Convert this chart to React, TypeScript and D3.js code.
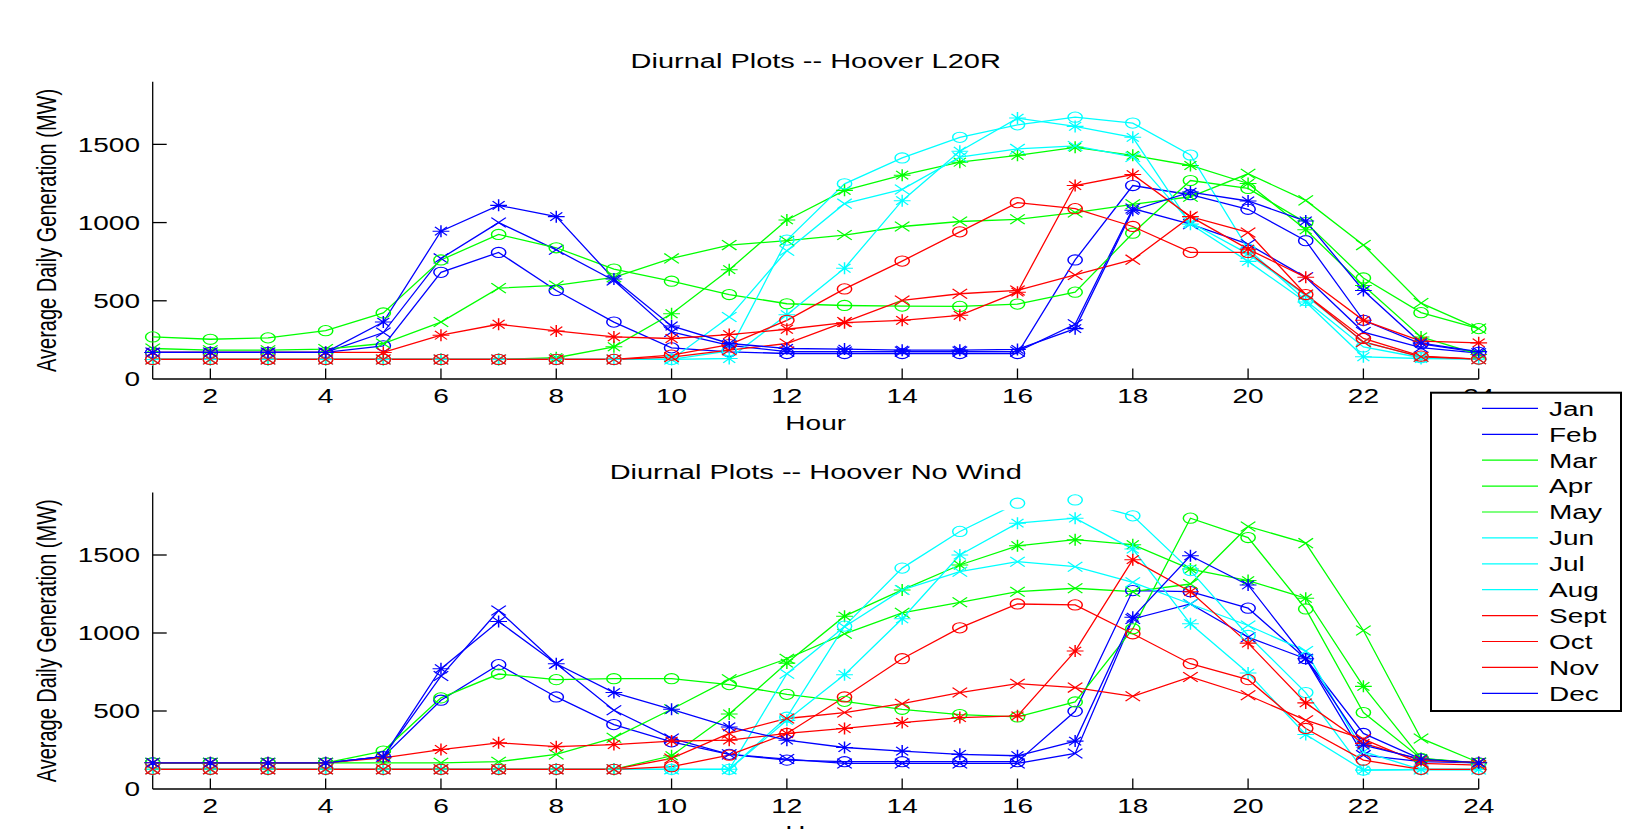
import React from "react";
import * as d3 from "d3";

const hours = [1, 2, 3, 4, 5, 6, 7, 8, 9, 10, 11, 12, 13, 14, 15, 16, 17, 18, 19, 20, 21, 22, 23, 24];
const xTicks = [2, 4, 6, 8, 10, 12, 14, 16, 18, 20, 22, 24];
const yTicks = [0, 500, 1000, 1500];
const months = ["Jan", "Feb", "Mar", "Apr", "May", "Jun", "Jul", "Aug", "Sept", "Oct", "Nov", "Dec"];
const monthColors = ["#0000ff", "#0000ff", "#00ff00", "#00ff00", "#00ff00", "#00ffff", "#00ffff", "#00ffff", "#ff0000", "#ff0000", "#ff0000", "#0000ff"];
const monthMarkers = ["o", "x", "*", "o", "x", "*", "o", "x", "*", "o", "x", "*"];

// Hoover L20R
const l20rJan = [170, 170, 170, 170, 212, 682, 809, 566, 364, 199, 174, 163, 163, 163, 163, 163, 761, 1237, 1178, 1085, 884, 375, 225, 170];
const l20rFeb = [170, 170, 170, 170, 297, 771, 1000, 826, 630, 301, 215, 175, 175, 175, 175, 175, 350, 1090, 990, 862, 650, 300, 200, 165];
const l20rMar = [125, 125, 125, 125, 125, 125, 125, 136, 206, 417, 699, 1017, 1206, 1303, 1386, 1430, 1481, 1430, 1365, 1250, 954, 598, 269, 157];
const l20rApr = [269, 254, 263, 309, 422, 761, 924, 839, 703, 625, 540, 481, 470, 466, 464, 479, 555, 932, 1269, 1218, 1000, 646, 424, 322];
const l20rMay = [195, 184, 184, 191, 227, 364, 581, 598, 650, 771, 856, 884, 920, 975, 1007, 1021, 1064, 1117, 1165, 1312, 1142, 856, 485, 322];
const l20rJun = [125, 125, 125, 125, 125, 125, 125, 125, 125, 125, 131, 411, 708, 1140, 1456, 1668, 1615, 1545, 990, 752, 492, 142, 131, 127];
const l20rJul = [125, 125, 125, 125, 125, 125, 125, 125, 125, 125, 180, 888, 1248, 1413, 1545, 1625, 1674, 1636, 1432, 830, 502, 205, 136, 127];
const l20rAug = [125, 125, 125, 125, 125, 125, 125, 125, 125, 125, 396, 820, 1121, 1212, 1418, 1471, 1490, 1420, 1000, 800, 534, 237, 142, 127];
const l20rSep = [170, 170, 170, 170, 170, 280, 350, 307, 269, 259, 284, 318, 360, 375, 407, 555, 1237, 1307, 1038, 830, 650, 375, 242, 231];
const l20rOct = [125, 125, 125, 125, 125, 125, 125, 125, 125, 153, 220, 375, 576, 754, 941, 1127, 1089, 975, 809, 809, 540, 259, 146, 127];
const l20rNov = [125, 125, 125, 125, 125, 125, 125, 125, 125, 140, 184, 227, 364, 502, 545, 566, 665, 763, 1038, 937, 540, 237, 142, 127];
const l20rDec = [170, 170, 170, 170, 364, 945, 1110, 1038, 639, 339, 227, 195, 191, 184, 184, 189, 322, 1079, 1195, 1138, 1010, 566, 230, 175];

// Hoover No Wind
const nwJan = [168, 168, 168, 168, 207, 569, 797, 590, 413, 302, 222, 185, 175, 175, 175, 175, 498, 1272, 1265, 1159, 835, 356, 192, 168];
const nwFeb = [168, 168, 168, 168, 207, 724, 1144, 803, 505, 324, 222, 192, 164, 164, 164, 164, 228, 1090, 1186, 973, 835, 217, 175, 168];
const nwMar = [126, 126, 126, 126, 126, 126, 126, 126, 126, 213, 481, 807, 1108, 1276, 1436, 1559, 1598, 1566, 1410, 1336, 1223, 658, 196, 168];
const nwApr = [168, 168, 168, 168, 243, 584, 737, 701, 707, 707, 669, 607, 562, 511, 477, 462, 558, 1027, 1736, 1612, 1154, 490, 196, 164];
const nwMay = [168, 168, 168, 168, 168, 168, 175, 222, 328, 511, 703, 835, 995, 1129, 1197, 1265, 1287, 1265, 1314, 1683, 1576, 1016, 324, 170];
const nwJun = [126, 126, 126, 126, 126, 126, 126, 126, 126, 126, 126, 440, 733, 1091, 1500, 1704, 1736, 1538, 1059, 743, 349, 121, 125, 125];
const nwJul = [126, 126, 126, 126, 126, 126, 126, 126, 126, 126, 126, 460, 1044, 1416, 1651, 1832, 1853, 1751, 1400, 984, 618, 121, 125, 125];
const nwAug = [126, 126, 126, 126, 126, 126, 126, 126, 126, 126, 126, 739, 1040, 1276, 1393, 1457, 1425, 1325, 1186, 1048, 884, 239, 125, 125];
const nwSep = [168, 168, 168, 168, 200, 253, 296, 271, 285, 307, 313, 356, 388, 426, 458, 469, 884, 1470, 1265, 935, 552, 292, 185, 170];
const nwOct = [126, 126, 126, 126, 126, 126, 126, 126, 126, 143, 217, 356, 590, 835, 1033, 1186, 1180, 995, 803, 701, 388, 185, 126, 126];
const nwNov = [126, 126, 126, 126, 126, 126, 126, 126, 126, 196, 356, 452, 490, 547, 618, 675, 650, 594, 718, 601, 441, 320, 164, 153];
const nwDec = [168, 168, 168, 168, 207, 771, 1074, 803, 618, 511, 398, 313, 266, 243, 222, 213, 307, 1101, 1495, 1308, 835, 281, 192, 168];

const l20rSeries = [l20rJan, l20rFeb, l20rMar, l20rApr, l20rMay, l20rJun, l20rJul, l20rAug, l20rSep, l20rOct, l20rNov, l20rDec];
const nwSeries = [nwJan, nwFeb, nwMar, nwApr, nwMay, nwJun, nwJul, nwAug, nwSep, nwOct, nwNov, nwDec];

const SX = 1.4;
const FONT = '"Liberation Sans", Arial, Helvetica, sans-serif';
const X0 = 152.7;
const X1 = 1478.7;

function T({ x, y, children, anchor = "middle", size = 20, rotate = 0 }: any) {
  const tr = `translate(${x},${y}) scale(${SX},1)` + (rotate ? ` rotate(${rotate})` : "");
  return (
    <text transform={tr} textAnchor={anchor} fontFamily={FONT} fontSize={size} fill="#000">
      {children}
    </text>
  );
}

function Marker({ type, cx, cy, color }: any) {
  const t = `translate(${cx},${cy}) scale(${SX},1)`;
  if (type === "o") return <circle transform={t} r={5.1} fill="none" stroke={color} strokeWidth={1.05} />;
  if (type === "x")
    return <path transform={t} d="M-5.2,-4.9L5.2,4.9M-5.2,4.9L5.2,-4.9" fill="none" stroke={color} strokeWidth={1.05} />;
  return (
    <path
      transform={t}
      d="M0,-6V6M-6,0H6M-4.3,-4.3L4.3,4.3M-4.3,4.3L4.3,-4.3"
      fill="none"
      stroke={color}
      strokeWidth={1.05}
    />
  );
}

function Panel({ id, title, series, yBase, yTop }: any) {
  const x = d3.scaleLinear().domain([1, 24]).range([X0, X1]);
  const y = d3.scaleLinear().domain([0, 1900]).range([yBase, yTop]);
  const line = d3
    .line<number>()
    .x((_, i) => x(hours[i]))
    .y((d) => y(d));
  const clipTop = y(1787);
  return (
    <g>
      <defs>
        <clipPath id={id}>
          <rect x={0} y={clipTop} width={1640} height={829 - clipTop} />
        </clipPath>
      </defs>
      <T x={(X0 + X1) / 2} y={yTop - 13.5} size={20.7}>
        {title}
      </T>
      {/* axes */}
      <line x1={X0} x2={X1} y1={yBase} y2={yBase} stroke="#000" strokeWidth={1.3} />
      <line x1={X0} x2={X0} y1={yBase} y2={y(1900)} stroke="#000" strokeWidth={1.3} />
      {xTicks.map((t) => (
        <g key={"xt" + t}>
          <line x1={x(t)} x2={x(t)} y1={yBase} y2={yBase - 10.5} stroke="#000" strokeWidth={1.3} />
          <T x={x(t)} y={yBase + 24}>
            {t}
          </T>
        </g>
      ))}
      {yTicks.map((t) => (
        <g key={"yt" + t}>
          {t > 0 && <line x1={X0} x2={X0 + 14} y1={y(t)} y2={y(t)} stroke="#000" strokeWidth={1.3} />}
          <T x={140} y={y(t) + 7.2} anchor="end">
            {t}
          </T>
        </g>
      ))}
      <T x={(X0 + X1) / 2} y={yBase + 50.5}>
        Hour
      </T>
      <T x={56.4} y={(yBase + y(1900)) / 2} rotate={-90}>
        Average Daily Generation (MW)
      </T>
      {/* lines */}
      <g clipPath={`url(#${id})`}>
        {series.map((s: number[], i: number) => (
          <path key={"l" + i} d={line(s) || ""} fill="none" stroke={monthColors[i]} strokeWidth={1.3} />
        ))}
      </g>
      {/* markers */}
      {series.map((s: number[], i: number) => (
        <g key={"m" + i}>
          {s.map((v, j) => (
            <Marker key={j} type={monthMarkers[i]} cx={x(hours[j])} cy={y(v)} color={monthColors[i]} />
          ))}
        </g>
      ))}
    </g>
  );
}

function Legend() {
  const lx = 1431;
  const ly = 392.7;
  const w = 190;
  const h = 318.3;
  const row0 = 408.4;
  const step = 25.9;
  return (
    <g>
      <rect x={lx} y={ly} width={w} height={h} fill="#fff" stroke="#000" strokeWidth={2} />
      {months.map((m, i) => (
        <g key={m}>
          <line x1={1482} x2={1538} y1={row0 + i * step} y2={row0 + i * step} stroke={monthColors[i]} strokeWidth={1.2} />
          <T x={1549} y={row0 + i * step + 7.3} anchor="start">
            {m}
          </T>
        </g>
      ))}
    </g>
  );
}

export default function App() {
  return (
    <svg
      width={1640}
      height={829}
      style={{ position: "absolute", left: 0, top: 0, background: "#fff", display: "block" }}
    >
      <rect x={0} y={0} width={1640} height={829} fill="#fff" />
      <Panel id="clipTop" title="Diurnal Plots -- Hoover L20R" series={l20rSeries} yBase={379} yTop={81.8} />
      <Panel id="clipBot" title="Diurnal Plots -- Hoover No Wind" series={nwSeries} yBase={789} yTop={492.6} />
      <Legend />
    </svg>
  );
}
